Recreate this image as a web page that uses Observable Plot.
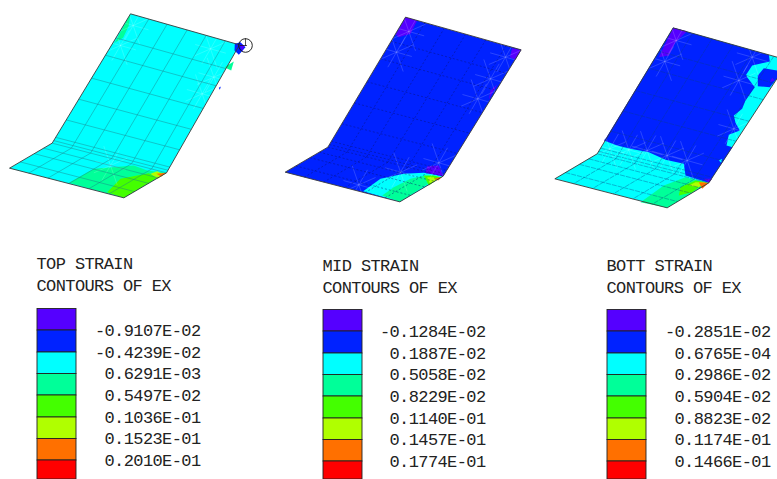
<!DOCTYPE html>
<html><head><meta charset="utf-8">
<script src="https://cdn.jsdelivr.net/npm/d3@7"></script>
<script src="https://cdn.jsdelivr.net/npm/@observablehq/plot@0.6"></script>
<style>html,body{margin:0;padding:0;background:#fff;overflow:hidden}svg{display:block}</style>
</head><body><div id="c"></div>
<script>
// contour band colours, top to bottom of each legend
const P="#5500ff",B="#0022ff",C="#00ffff",T="#00ff99",G="#44ff00",L="#b0ff00",O="#ff7000",R="#ff0000";
const bandColors=[P,B,C,T,G,L,O,R];
const bandEdges=[308.5,330,352,373.5,395,417,438.5,460,479];
const titles=[["TOP STRAIN","CONTOURS OF EX"],["MID STRAIN","CONTOURS OF EX"],["BOTT STRAIN","CONTOURS OF EX"]];
const legendValues=[
 ["-0.9107E-02","-0.4239E-02","0.6291E-03","0.5497E-02","0.1036E-01","0.1523E-01","0.2010E-01"],
 ["-0.1284E-02","0.1887E-02","0.5058E-02","0.8229E-02","0.1140E-01","0.1457E-01","0.1774E-01"],
 ["-0.2851E-02","0.6765E-04","0.2986E-02","0.5904E-02","0.8823E-02","0.1174E-01","0.1466E-01"]];
const legendPos=[{x:37,vx:200,ty:268.5,dy:0},{x:323,vx:485,ty:270.5,dy:1},{x:607,vx:770,ty:270.5,dy:1}];
// plate outlines: top-left, top-right, fold-right, bottom, left, fold-left
const origins=[0,270,530];
const corners=[
 [[390,40],[717,133],[498,517],[370,592],[27,503],[155,428]],
 [[405,50],[752,148],[518,527],[388,604],[44,515],[172,440]],
 [[428,82],[775,180],[535,547],[410,622],[73,535],[200,460]]];
const baseColor=[C,B,C];
const uFractions=[.168,.336,.52,.694,.87];
const vUpper=[.186,.32,.497,.66,.82,.955,.98];
const vLower=[.2,.42,.75];
const regions=[
 [ // top
  [T,[[205,547],[280,505],[400,495],[440,510],[498,517],[370,592]]],
  [T,[[390,40],[338,135],[345,125],[368,112],[385,75]]],
  [G,[[320,575],[360,535],[445,518],[470,532],[370,592]]],
  [L,[[450,520],[470,512],[490,522],[472,535]]],
  [O,[[468,520],[498,517],[482,528]]],
  [T,[[672,200],[700,183],[692,210]]],
  [B,[[703,130],[720,125],[735,140],[715,163],[702,150]]],
  [P,[[717,132],[732,135],[725,152]]],
  [B,[[655,262],[661,258],[658,268]]]],
 [ // mid
  [C,[[278,572],[330,535],[400,520],[460,517],[518,527],[388,604]]],
  [T,[[335,585],[370,560],[420,535],[465,525],[480,545],[388,604]]],
  [G,[[460,525],[490,525],[510,530],[475,555]]],
  [L,[[470,530],[490,530],[495,540],[478,548]]],
  [O,[[490,535],[516,528],[503,540]]],
  [P,[[405,50],[440,60],[420,100],[385,110],[376,102]]],
  [P,[[725,143],[752,148],[735,178],[718,170]]],
  [P,[[680,252],[655,297],[660,270]]],
  [P,[[470,497],[505,495],[518,527],[465,517]]]],
 [ // bott
  [B,[[428,82],[715,163],[718,183],[688,190],[665,195],[647,223],[650,230],[673,260],[645,300],[635,325],[610,345],[615,367],[628,390],[595,403],[588,435],[606,440],[535,547],[465,525],[460,490],[405,478],[355,455],[300,445],[260,435],[220,420],[227,412]]],
  [B,[[682,225],[700,203],[741,210],[741,232],[718,260],[682,257]]],
  [C,[[565,480],[575,475],[572,487]]],
  [P,[[428,82],[470,92],[435,125],[415,165],[385,170]]],
  [P,[[725,232],[732,240],[718,245]]],
  [P,[[520,535],[545,535],[535,547]]],
  [T,[[330,605],[400,555],[465,530],[480,535],[535,547],[410,622]]],
  [G,[[445,585],[450,560],[495,540],[525,545],[485,575]]],
  [L,[[475,555],[495,545],[525,545],[505,560]]],
  [O,[[505,545],[535,547],[515,565]]]]];
// mesh nodes with pale spokes
const stars=[
 [[398,75],[360,135],[630,145],[640,230],[605,280],[330,495]],
 [[415,93],[378,155],[705,170],[660,235],[622,295],[505,487],[265,553],[390,515]],
 [[437,120],[403,183],[665,170],[625,240],[610,385],[470,480],[410,465],[350,450],[295,448],[238,445]]];
const meshColor=["#1d8088","#0a1270","#0a3a80"];
const meshDash=[null,"2,2","5,1"];
const meshOpacity=[.75,.75,.6];
const outlineColor="#3a3a3a";
const spokeVectors=[[46,13],[-46,-13],[-26,45],[26,-45],[20,58],[-20,-58],[50,-22],[-50,22]];
const marker={x:245,y:45};
const markerRadius=6.8;

const toPx=(i,p)=>[origins[i]+p[0]/3,p[1]/3];
const mix=(a,b,t)=>[a[0]+(b[0]-a[0])*t,a[1]+(b[1]-a[1])*t];
let polys=[],id=0;
const addPoly=(color,pts)=>{const k=id++;pts.forEach(p=>polys.push({k,color,x:p[0],y:p[1]}));};
let mesh=[],outlines=[],spokes=[];
corners.forEach((c,i)=>{
  const q=c.map(p=>toPx(i,p));
  const [tl,tr,fr,bo,le,fl]=q;
  addPoly(baseColor[i],q);
  regions[i].forEach(([col,pts])=>addPoly(col,pts.map(p=>toPx(i,p))));
  stars[i].forEach(s=>{
    const n=toPx(i,s);
    spokeVectors.forEach(v=>spokes.push({x1:n[0],y1:n[1],x2:n[0]+v[0]/3,y2:n[1]+v[1]/3}));
  });
  const seg=(a,b)=>mesh.push({i,x1:a[0],y1:a[1],x2:b[0],y2:b[1]});
  uFractions.forEach(u=>{
    const a=mix(tl,tr,u),b=mix(fl,fr,u),d=mix(le,bo,u);
    seg(a,b);seg(b,d);
  });
  vUpper.forEach(v=>seg(mix(tl,fl,v),mix(tr,fr,v)));
  seg(fl,fr);
  vLower.forEach(v=>seg(mix(fl,le,v),mix(fr,bo,v)));
  q.concat([q[0]]).forEach((p,j,arr)=>{if(j<arr.length-1)outlines.push({x1:p[0],y1:p[1],x2:arr[j+1][0],y2:arr[j+1][1]});});
});
const swatches=[],valueRows=[],titleRows=[];
legendPos.forEach((l,i)=>{
  bandColors.forEach((col,b)=>swatches.push({x1:l.x,x2:l.x+39,y1:bandEdges[b]+l.dy,y2:bandEdges[b+1]+(b<7?l.dy:0),col}));
  legendValues[i].forEach((t,b)=>valueRows.push({x:l.vx,y:(bandEdges[b+1])+l.dy,t}));
  titles[i].forEach((t,b)=>titleRows.push({x:l.x-1,y:l.ty-5+b*22,t}));
});
const font="Liberation Mono";
const chart=Plot.plot({
  width:777,height:479,margin:0,
  x:{domain:[0,777],range:[0,777],axis:null},
  y:{domain:[0,479],range:[0,479],axis:null},
  style:{background:"#fff",letterSpacing:"-0.6px"},
  marks:[
    Plot.line(polys,{x:"x",y:"y",z:"k",fill:"color",stroke:"none",curve:"linear-closed"}),
    Plot.link(spokes,{x1:"x1",y1:"y1",x2:"x2",y2:"y2",stroke:"#ffffff",strokeOpacity:.24,strokeWidth:.7}),
    ...[0,1,2].map(i=>Plot.link(mesh.filter(d=>d.i===i),{x1:"x1",y1:"y1",x2:"x2",y2:"y2",stroke:meshColor[i],strokeOpacity:meshOpacity[i],strokeWidth:.6,strokeDasharray:meshDash[i]})),
    Plot.link(outlines,{x1:"x1",y1:"y1",x2:"x2",y2:"y2",stroke:outlineColor,strokeWidth:.9}),
    Plot.dot([marker],{x:"x",y:"y",r:markerRadius,stroke:"#111",strokeWidth:.9,fill:"none"}),
    Plot.ruleX([marker],{x:"x",y1:d=>d.y-markerRadius,y2:d=>d.y+1,stroke:"#111",strokeWidth:.7}),
    Plot.ruleY([marker],{y:"y",x1:d=>d.x-5,x2:d=>d.x+2,stroke:"#111",strokeWidth:.7}),
    Plot.rect(swatches,{x1:"x1",x2:"x2",y1:"y1",y2:"y2",fill:"col",stroke:"#222",strokeWidth:.9}),
    Plot.text(titleRows,{x:"x",y:"y",text:"t",textAnchor:"start",fontFamily:font,fontSize:17,fill:"#222"}),
    Plot.text(valueRows,{x:"x",y:"y",text:"t",textAnchor:"end",fontFamily:font,fontSize:17,fill:"#222"})
  ]
});
chart.setAttribute("style",(chart.getAttribute("style")||"")+";max-width:none");
document.getElementById("c").append(chart);
</script></body></html>
